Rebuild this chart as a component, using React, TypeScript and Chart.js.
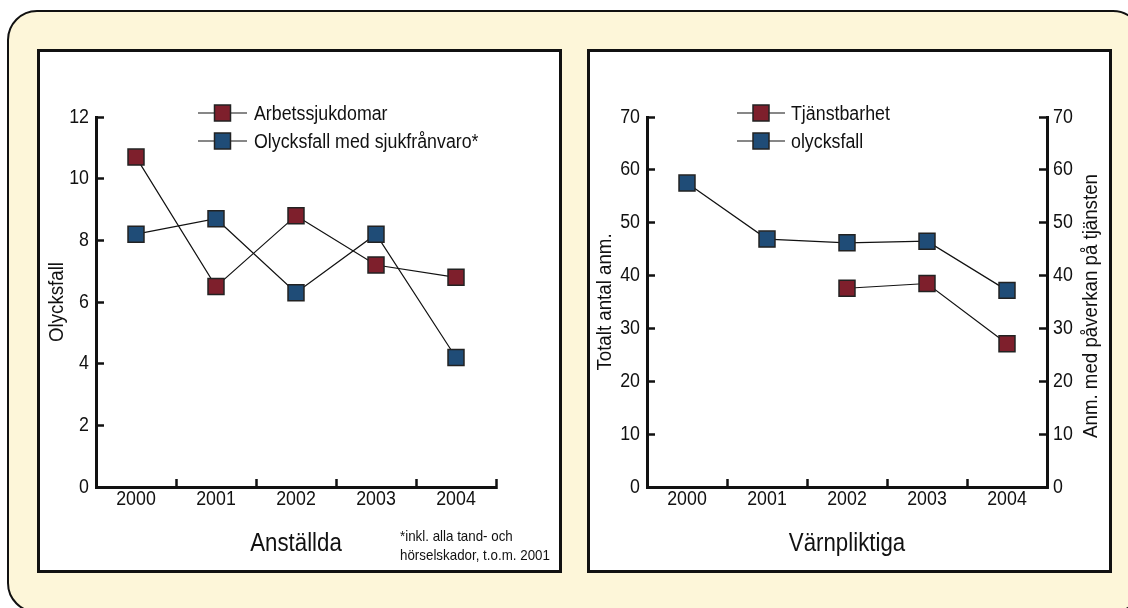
import React, { useEffect, useRef } from "react";
import { Chart, registerables } from "chart.js";

Chart.register(...registerables);

const FONT = '"Liberation Sans", Arial, Helvetica, sans-serif';
const NARROW = 0.89; // horizontal condensing of all text (reference uses a condensed face)
const INK = "#111111";
const RED = "#7E1F2C";
const BLUE = "#1F4C77";
const MARK_BORDER = "#222222";

// ---- data: left chart (Anställda)
const years = ["2000", "2001", "2002", "2003", "2004"];
const arbetssjukdomar = [10.7, 6.5, 8.8, 7.2, 6.8];
const olycksfallMedSjukfranvaro = [8.2, 8.7, 6.3, 8.2, 4.2];
const leftTicks = [0, 2, 4, 6, 8, 10, 12];

// ---- data: right chart (Värnpliktiga)
const tjanstbarhet: (number | null)[] = [null, null, 37.6, 38.5, 27.1];
const olycksfallVarnpliktiga = [57.5, 46.9, 46.2, 46.5, 37.2];
const rightTicks = [0, 10, 20, 30, 40, 50, 60, 70];

const footnoteLines = ["*inkl. alla tand- och", "hörselskador, t.o.m. 2001"];

type LegendItem = { label: string; color: string };

function condense(ctx: any, k: number) {
  const orig = ctx.fillText;
  ctx.fillText = function (text: string, x: number, y: number, maxWidth?: number) {
    this.save();
    this.translate(x, y);
    this.scale(k, 1);
    if (maxWidth !== undefined && maxWidth !== null) orig.call(this, text, 0, 0, maxWidth / k);
    else orig.call(this, text, 0, 0);
    this.restore();
  };
}

function overlayPlugin(cfg: {
  legend: { items: LegendItem[]; x0: number; x1: number; textX: number; y0: number; dy: number };
  notes?: { lines: string[]; x: number; y0: number; dy: number; size: number };
  rightTitle?: { text: string; x: number; dyc: number; size: number };
}) {
  return {
    id: "overlay",
    afterDraw(chart: any) {
      const ctx: CanvasRenderingContext2D = chart.ctx;
      ctx.save();
      const L = cfg.legend;
      L.items.forEach((it, i) => {
        const y = L.y0 + i * L.dy;
        ctx.strokeStyle = INK;
        ctx.lineWidth = 1.2;
        ctx.beginPath();
        ctx.moveTo(L.x0, y);
        ctx.lineTo(L.x1, y);
        ctx.stroke();
        const cx = (L.x0 + L.x1) / 2;
        ctx.fillStyle = it.color;
        ctx.fillRect(cx - 8, y - 8, 16, 16);
        ctx.lineWidth = 1.5;
        ctx.strokeStyle = MARK_BORDER;
        ctx.strokeRect(cx - 8, y - 8, 16, 16);
        ctx.fillStyle = INK;
        ctx.font = `20px ${FONT}`;
        ctx.textBaseline = "middle";
        ctx.textAlign = "left";
        ctx.fillText(it.label, L.textX, y + 1);
      });
      if (cfg.notes) {
        const N = cfg.notes;
        ctx.fillStyle = INK;
        ctx.font = `${N.size}px ${FONT}`;
        ctx.textBaseline = "middle";
        ctx.textAlign = "left";
        N.lines.forEach((t, i) => ctx.fillText(t, N.x, N.y0 + i * N.dy));
      }
      if (cfg.rightTitle) {
        const R = cfg.rightTitle;
        const ca = chart.chartArea;
        const cy = (ca.top + ca.bottom) / 2 + R.dyc;
        ctx.translate(R.x, cy);
        ctx.rotate(-Math.PI / 2);
        ctx.fillStyle = INK;
        ctx.font = `${R.size}px ${FONT}`;
        ctx.textBaseline = "middle";
        ctx.textAlign = "center";
        ctx.fillText(R.text, 0, 0);
      }
      ctx.restore();
    },
  };
}

const tickFont = { family: FONT, size: 20 };

function yAxis(ticksArr: number[], max: number, position: "left" | "right", width: number, title?: { text: string; padTop: number }) {
  return {
    type: "linear",
    position,
    min: 0,
    max,
    afterBuildTicks: (s: any) => {
      s.ticks = ticksArr.map((v) => ({ value: v }));
    },
    afterFit: (s: any) => {
      s.width = width;
    },
    ticks: { color: INK, font: tickFont, padding: position === "left" ? 15 : 14 },
    grid: {
      display: true,
      drawOnChartArea: false,
      drawTicks: true,
      tickLength: -8,
      tickWidth: 2.5,
      tickColor: INK,
    },
    border: { display: true, color: INK, width: 3 },
    title: title
      ? { display: true, text: title.text, color: INK, font: { family: FONT, size: 21 }, padding: { top: title.padTop, bottom: 0 } }
      : { display: false },
  };
}

function xAxis(titleText: string, height: number) {
  return {
    type: "category",
    offset: true,
    afterFit: (s: any) => {
      s.height = height;
    },
    ticks: { color: INK, font: tickFont, padding: 8, maxRotation: 0, autoSkip: false },
    grid: {
      display: true,
      offset: true,
      drawOnChartArea: false,
      drawTicks: true,
      tickLength: -8,
      tickWidth: 2.5,
      tickColor: INK,
    },
    border: { display: true, color: INK, width: 3 },
    title: { display: true, text: titleText, color: INK, font: { family: FONT, size: 25 }, padding: { top: 0, bottom: 11 } },
  };
}

function ds(label: string, data: (number | null)[], color: string, yAxisID = "y") {
  return {
    label,
    data,
    yAxisID,
    borderColor: INK,
    borderWidth: 1.2,
    backgroundColor: color,
    pointStyle: "rect",
    pointRadius: 11.3,
    pointBorderWidth: 1.5,
    pointBorderColor: MARK_BORDER,
    pointBackgroundColor: color,
    tension: 0,
    clip: false,
    spanGaps: false,
  };
}

const CW = 519;
const CH = 518;

function LeftChart() {
  const ref = useRef<HTMLCanvasElement>(null);
  useEffect(() => {
    const canvas = ref.current as HTMLCanvasElement;
    const ctx = canvas.getContext("2d") as any;
    condense(ctx, NARROW);
    const chart = new Chart(ctx, {
      type: "line",
      data: {
        labels: years,
        datasets: [
          ds("Arbetssjukdomar", arbetssjukdomar, RED),
          ds("Olycksfall med sjukfrånvaro*", olycksfallMedSjukfranvaro, BLUE),
        ],
      },
      options: {
        animation: false,
        responsive: false,
        devicePixelRatio: 1,
        layout: { padding: { top: 65, right: 63, left: 0, bottom: 0 } },
        plugins: { legend: { display: false }, tooltip: { enabled: false } },
        scales: {
          x: xAxis("Anställda", 83),
          y: yAxis(leftTicks, 12, "left", 56, { text: "Olycksfall", padTop: 4.4 }),
        },
      } as any,
      plugins: [
        overlayPlugin({
          legend: {
            items: [
              { label: "Arbetssjukdomar", color: RED },
              { label: "Olycksfall med sjukfrånvaro*", color: BLUE },
            ],
            x0: 158,
            x1: 207,
            textX: 214,
            y0: 61,
            dy: 28,
          },
          notes: { lines: footnoteLines, x: 360, y0: 485, dy: 19, size: 15 },
        }) as any,
      ],
    });
    return () => chart.destroy();
  }, []);
  return <canvas ref={ref} width={CW} height={CH} style={{ position: "absolute", left: 40, top: 52, width: CW, height: CH }} />;
}

function RightChart() {
  const ref = useRef<HTMLCanvasElement>(null);
  useEffect(() => {
    const canvas = ref.current as HTMLCanvasElement;
    const ctx = canvas.getContext("2d") as any;
    condense(ctx, NARROW);
    const chart = new Chart(ctx, {
      type: "line",
      data: {
        labels: years,
        datasets: [
          ds("Tjänstbarhet", tjanstbarhet, RED, "y1"),
          ds("olycksfall", olycksfallVarnpliktiga, BLUE, "y"),
        ],
      },
      options: {
        animation: false,
        responsive: false,
        devicePixelRatio: 1,
        layout: { padding: { top: 65, right: 0, left: 0, bottom: 0 } },
        plugins: { legend: { display: false }, tooltip: { enabled: false } },
        scales: {
          x: xAxis("Värnpliktiga", 83),
          y: yAxis(rightTicks, 70, "left", 57, { text: "Totalt antal anm.", padTop: 2.4 }),
          y1: yAxis(rightTicks, 70, "right", 62),
        },
      } as any,
      plugins: [
        overlayPlugin({
          legend: {
            items: [
              { label: "Tjänstbarhet", color: RED },
              { label: "olycksfall", color: BLUE },
            ],
            x0: 147,
            x1: 195,
            textX: 201,
            y0: 61,
            dy: 28,
          },
          rightTitle: { text: "Anm. med påverkan på tjänsten", x: 501, dyc: 4, size: 21 },
        }) as any,
      ],
    });
    return () => chart.destroy();
  }, []);
  return <canvas ref={ref} width={CW} height={CH} style={{ position: "absolute", left: 590, top: 52, width: CW, height: CH }} />;
}

export default function App() {
  const panel = (left: number): React.CSSProperties => ({
    position: "absolute",
    left,
    top: 49,
    width: 525,
    height: 524,
    boxSizing: "border-box",
    border: "3px solid #111",
    background: "#ffffff",
  });
  return (
    <div style={{ position: "absolute", left: 0, top: 0, width: 1128, height: 608, overflow: "hidden", background: "#ffffff" }}>
      <div
        style={{
          position: "absolute",
          left: 7,
          top: 10,
          width: 1136,
          height: 603,
          boxSizing: "border-box",
          border: "2.5px solid #111",
          borderRadius: 30,
          background: "#FDF6D9",
        }}
      />
      <div style={panel(37)} />
      <div style={panel(587)} />
      <LeftChart />
      <RightChart />
    </div>
  );
}
